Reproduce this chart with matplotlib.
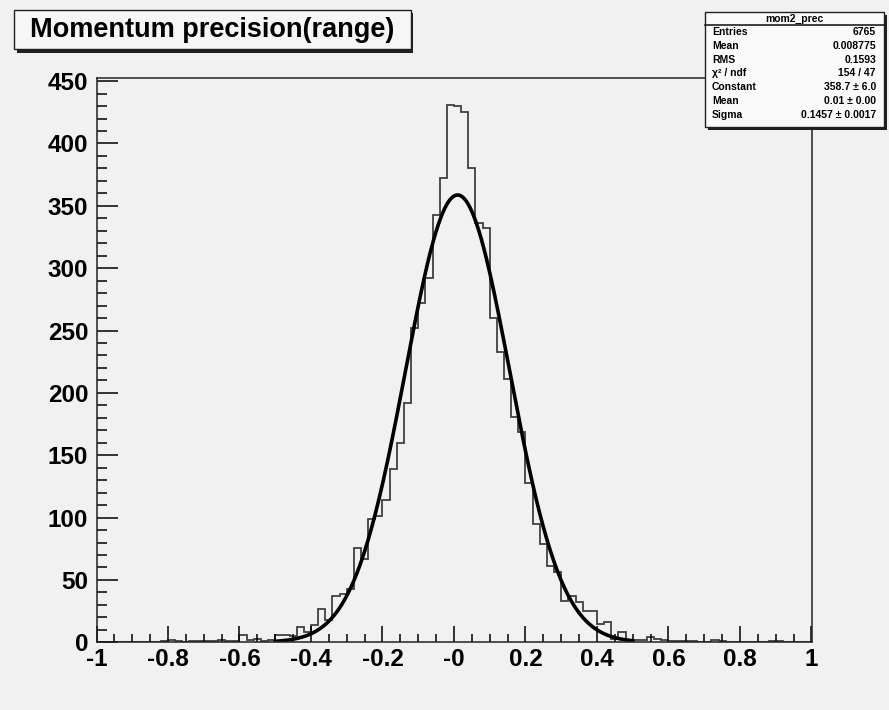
import numpy as np
import matplotlib
matplotlib.use('Agg')
import matplotlib.pyplot as plt
from matplotlib.patches import Rectangle

# histogram contents, 100 bins from -1 to 1
bin_lo, bin_hi, n_bins = -1.0, 1.0, 100
counts = [
    0, 0, 0, 0, 0, 0, 0, 0, 0, 1,
    2, 1, 0, 1, 1, 1, 1, 2, 1, 1,
    6, 2, 3, 1, 2, 6, 6, 5, 12, 8,
    14, 27, 18, 37, 39, 43, 76, 67, 99, 101,
    114, 139, 160, 192, 252, 272, 292, 343, 372, 431,
    430, 425, 380, 336, 332, 260, 233, 211, 181, 169,
    128, 95, 79, 61, 56, 33, 37, 32, 25, 25,
    15, 16, 3, 8, 2, 2, 2, 4, 3, 2,
    1, 1, 1, 1, 0, 0, 2, 1, 0, 0,
    0, 0, 0, 0, 1, 1, 0, 0, 0, 0,
]

# gaussian fit shown in the stats box
fit_const, fit_mean, fit_sigma = 358.7, 0.01, 0.1457
fit_lo, fit_hi = -0.5, 0.5

title = 'Momentum precision(range)'
hist_name = 'mom2_prec'
stat_labels = ['Entries', 'Mean', 'RMS', 'χ² / ndf', 'Constant', 'Mean', 'Sigma']
stat_values = ['6765', '0.008775', '0.1593', '154 / 47', '358.7 ± 6.0', '0.01 ± 0.00', '0.1457 ± 0.0017']

xticks = [-1, -0.8, -0.6, -0.4, -0.2, 0, 0.2, 0.4, 0.6, 0.8, 1]
xtick_labels = ['-1', '-0.8', '-0.6', '-0.4', '-0.2', '-0', '0.2', '0.4', '0.6', '0.8', '1']
yticks = [0, 50, 100, 150, 200, 250, 300, 350, 400, 450]

W, H = 889, 710
bg = '#f1f1f1'
plt.rcParams['font.family'] = ['Liberation Sans', 'DejaVu Sans']

def fx(px):
    return px / W

def fy(py):
    return 1 - py / H

fig = plt.figure(figsize=(W / 100, H / 100), dpi=100, facecolor=bg)
ax = fig.add_axes([fx(96.5), fy(642.3), fx(811.5) - fx(96.5), fy(78) - fy(642.3)])
ax.set_facecolor(bg)

edges = np.linspace(bin_lo, bin_hi, n_bins + 1)
ax.stairs(counts, edges, baseline=None, color='#404040', lw=1.3)

xf = np.linspace(fit_lo, fit_hi, 400)
ax.plot(xf, fit_const * np.exp(-0.5 * ((xf - fit_mean) / fit_sigma) ** 2), color='black', lw=2.6)

ax.set_xlim(bin_lo, bin_hi)
ax.set_ylim(0, 452.5)
ax.set_xticks(xticks)
ax.set_xticklabels(xtick_labels)
ax.set_xticks(np.arange(-1, 1.001, 0.05), minor=True)
ax.set_yticks(yticks)
ax.set_yticks(np.arange(0, 451, 10), minor=True)
ax.tick_params(axis='x', which='major', direction='in', length=11.5, width=1.1, pad=4, labelsize=17.5)
ax.tick_params(axis='x', which='minor', direction='in', length=5.8, width=1.1)
ax.tick_params(axis='y', which='major', direction='in', length=15, width=1.1, pad=6, labelsize=17.5)
ax.tick_params(axis='y', which='minor', direction='in', length=7.2, width=1.1)
for lab in ax.get_xticklabels() + ax.get_yticklabels():
    lab.set_fontweight('bold')
for s in ax.spines.values():
    s.set_linewidth(1.1)
    s.set_color('#222222')

# title box with shadow
fig.patches.append(Rectangle((fx(17), fy(53)), fx(413) - fx(17), fy(13) - fy(53),
                             transform=fig.transFigure, facecolor='#202020', edgecolor='none'))
fig.patches.append(Rectangle((fx(14), fy(49)), fx(411) - fx(14), fy(10) - fy(49),
                             transform=fig.transFigure, facecolor='#f6f6f6', edgecolor='#202020', lw=1))
fig.text(fx(212), fy(30), title, fontweight='bold', fontsize=19.5,
         ha='center', va='center')

# stats box with shadow
fig.patches.append(Rectangle((fx(708), fy(130)), fx(887) - fx(708), fy(15) - fy(130),
                             transform=fig.transFigure, facecolor='#202020', edgecolor='none'))
fig.patches.append(Rectangle((fx(705), fy(127)), fx(884) - fx(705), fy(12) - fy(127),
                             transform=fig.transFigure, facecolor='#fafafa', edgecolor='#202020', lw=1))
fig.add_artist(plt.Line2D([fx(705), fx(884)], [fy(25), fy(25)], transform=fig.transFigure,
                          color='#202020', lw=1.2))
fig.text(fx(794.5), fy(18.5), hist_name, fontweight='bold', fontsize=7.5,
         ha='center', va='center')
for i, (lab, val) in enumerate(zip(stat_labels, stat_values)):
    y = fy(32 + i * 13.8)
    fig.text(fx(712), y, lab, fontweight='bold', fontsize=7.5, ha='left', va='center')
    fig.text(fx(876), y, val, fontweight='bold', fontsize=7.5, ha='right', va='center')

fig.savefig('out.png', dpi=100, facecolor=bg)
